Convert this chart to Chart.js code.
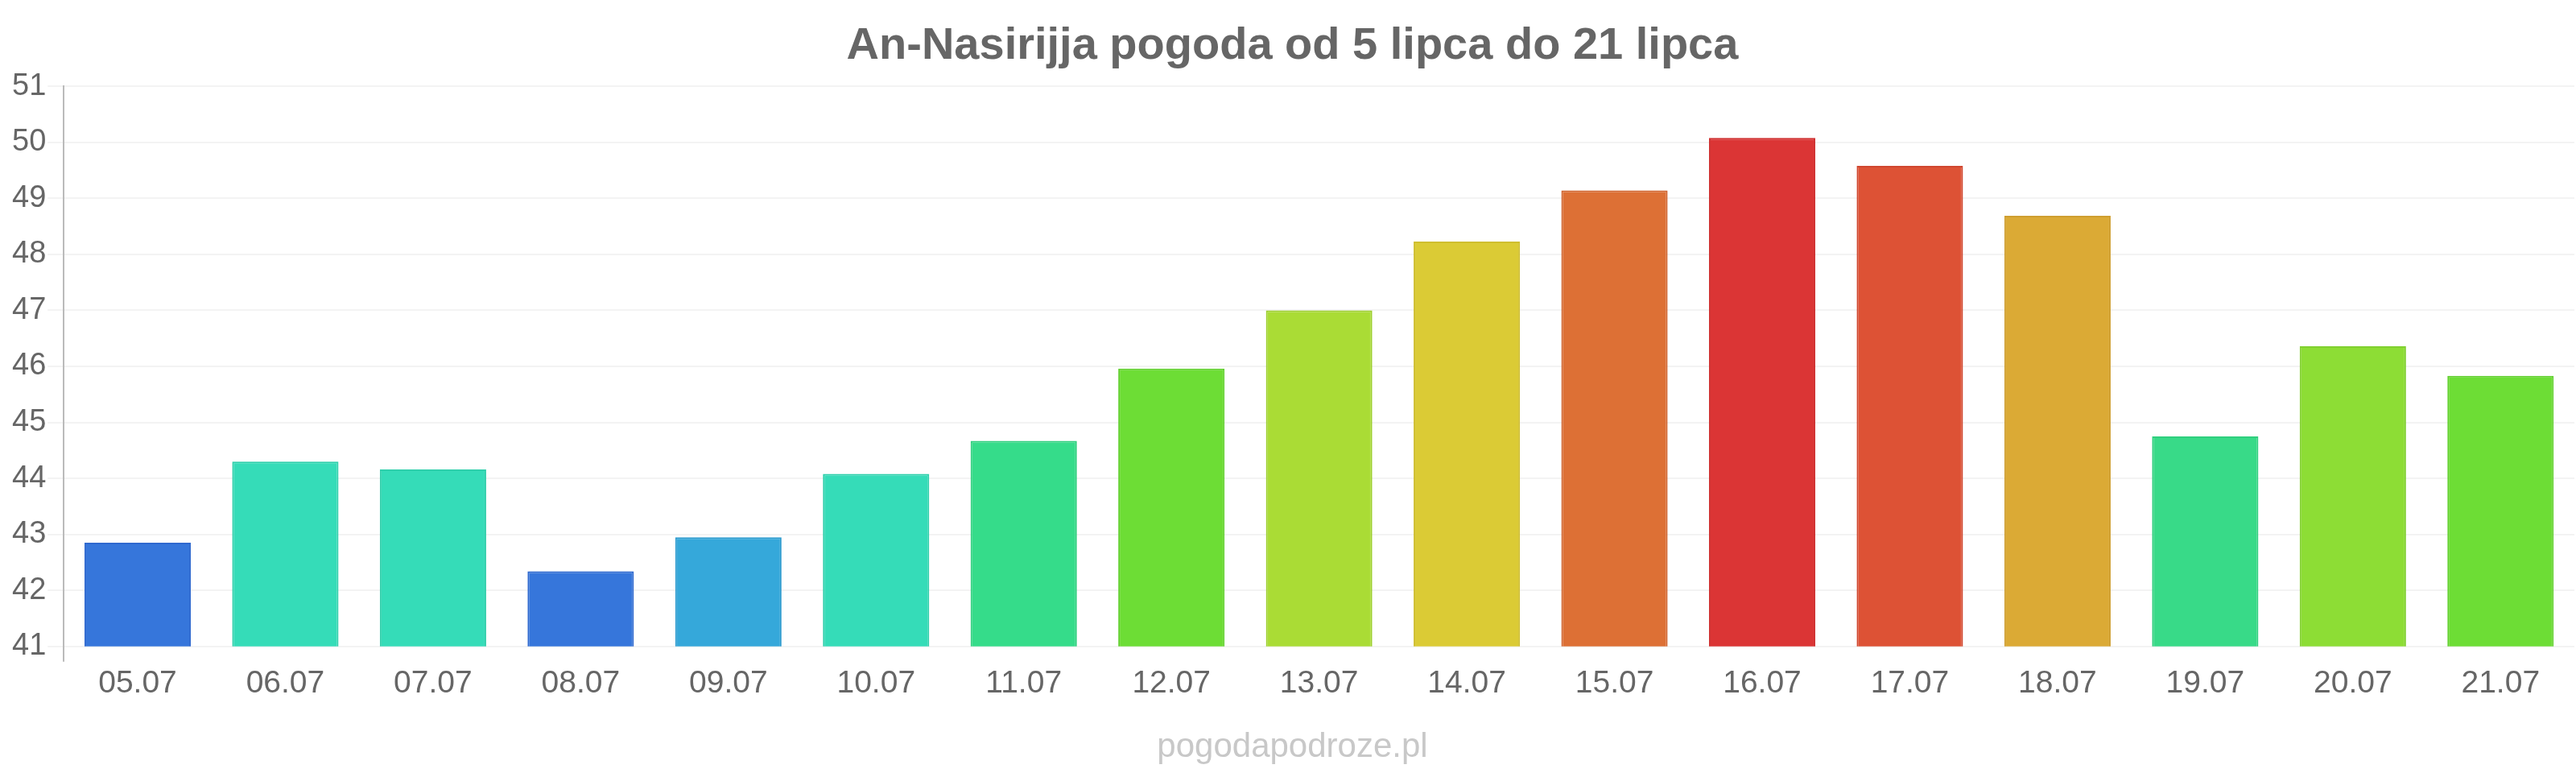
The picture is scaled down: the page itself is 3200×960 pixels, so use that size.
<!DOCTYPE html>
<html>
<head>
<meta charset="utf-8">
<script src="https://cdn.jsdelivr.net/npm/chart.js@4.4.0/dist/chart.umd.min.js"></script>
<style>
  html, body { margin: 0; padding: 0; background: #fff; }
  #wrap { width: 3200px; height: 960px; }
</style>
</head>
<body>
<div id="wrap"><canvas id="myChart" width="3200" height="960"></canvas></div>
<script>
// dni i temperatury
const days = ['05.07', '06.07', '07.07', '08.07', '09.07', '10.07', '11.07', '12.07', '13.07',
    '14.07', '15.07', '16.07', '17.07', '18.07', '19.07', '20.07', '21.07'];
const temps = [42.85, 44.3, 44.16, 42.34, 42.95, 44.08, 44.67, 45.96, 47.0,
    48.23, 49.14, 50.08, 49.58, 48.69, 44.75, 46.36, 45.83];
const yTicks = [41, 42, 43, 44, 45, 46, 47, 48, 49, 50, 51];

const fillColors = ['#3676db', '#35dcb8', '#35dcb8', '#3676db', '#35a8da', '#35dcb8', '#35dc8a', '#6ddd35', '#aadc35',
    '#dbcb35', '#dd7035', '#db3535', '#dd5235', '#dbaa35', '#38da88', '#8ddd35', '#6ddd35'];
const lineColors = ['#2f69cf', '#2fcfab', '#2fcfab', '#2f69cf', '#2f9ccf', '#2fcfab', '#2fcf7e', '#62d02f', '#9dcf2f',
    '#cfbe2f', '#d0642f', '#cf2f2f', '#d0472f', '#cf9e2f', '#2fcf7e', '#80d02f', '#62d02f'];

const ctx = document.getElementById('myChart').getContext('2d');
const myChart = new Chart(ctx, {
    type: 'bar',
    data: {
        labels: days,
        datasets: [{
            label: '',
            data: temps,
            backgroundColor: fillColors,
            borderColor: lineColors,
            borderWidth: 2,
        }]
    },
    options: {
        responsive: false,
        animation: false,
        devicePixelRatio: 1,
        layout: {
            padding: { left: 13, right: 2, top: 0, bottom: 0 }
        },
        plugins: {
            legend: { display: false },
            tooltip: { enabled: false },
            title: {
                display: true,
                text: 'An-Nasirijja pogoda od 5 lipca do 21 lipca',
                color: '#666',
                font: { family: '"Liberation Sans", Arial, sans-serif', size: 56, weight: 'bold' },
                padding: { top: 24, bottom: 16 }
            },
            subtitle: {
                display: true,
                position: 'bottom',
                text: 'pogodapodroze.pl',
                color: '#c8c8c8',
                font: { family: '"Liberation Sans", Arial, sans-serif', size: 42, weight: 'normal' },
                padding: { top: 27, bottom: 6 }
            }
        },
        scales: {
            x: {
                grid: {
                    drawOnChartArea: false,
                    tickLength: 19,
                    lineWidth: 2,
                    color: (c) => c.index === 0 ? '#bbb' : 'transparent'
                },
                border: { display: false },
                ticks: {
                    color: '#666',
                    padding: 4,
                    font: { family: '"Liberation Sans", Arial, sans-serif', size: 39 }
                }
            },
            y: {
                min: 41,
                max: 51,
                afterBuildTicks: (axis) => { axis.ticks = yTicks.map(v => ({ value: v })); },
                grid: {
                    color: '#f3f3f3',
                    lineWidth: 2,
                    tickLength: 20
                },
                border: { display: true, color: '#bbb', width: 2 },
                ticks: {
                    color: '#666',
                    padding: 2,
                    font: { family: '"Liberation Sans", Arial, sans-serif', size: 38 }
                }
            }
        }
    }
});
</script>
</body>
</html>
